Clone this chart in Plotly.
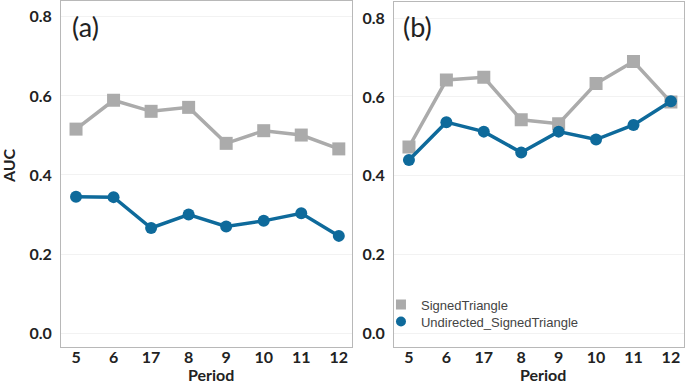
import plotly.graph_objects as go

periods = ["5", "6", "17", "8", "9", "10", "11", "12"]
a_signed = [0.516, 0.589, 0.561, 0.571, 0.480, 0.512, 0.501, 0.466]
a_undirected = [0.345, 0.344, 0.266, 0.300, 0.270, 0.284, 0.303, 0.246]
b_signed = [0.473, 0.643, 0.650, 0.542, 0.532, 0.634, 0.690, 0.587]
b_undirected = [0.440, 0.536, 0.512, 0.459, 0.512, 0.492, 0.529, 0.589]
y_ticks = [0.0, 0.2, 0.4, 0.6, 0.8]
series_names = ["SignedTriangle", "Undirected_SignedTriangle"]

GRAY = "#ababab"
BLUE = "#0e6a9b"

fig = go.Figure()

def add(x, y, name, color, symbol, size, xa, ya):
    fig.add_trace(go.Scatter(
        x=x, y=y, name=name, mode="lines+markers",
        line=dict(color=color, width=3.5),
        marker=dict(symbol=symbol, size=size, color=color),
        xaxis=xa, yaxis=ya, showlegend=False))

add(periods, a_signed, series_names[0], GRAY, "square", 13, "x", "y")
add(periods, a_undirected, series_names[1], BLUE, "circle", 12, "x", "y")
add(periods, b_signed, series_names[0], GRAY, "square", 13, "x2", "y2")
add(periods, b_undirected, series_names[1], BLUE, "circle", 12, "x2", "y2")

# legend entries (marker only), one per legend box for tight spacing
for nm, col, sym, lg in zip(series_names, [GRAY, BLUE], ["square", "circle"], ["legend", "legend2"]):
    fig.add_trace(go.Scatter(x=[None], y=[None], name=nm, mode="markers",
                             marker=dict(symbol=sym, size=10, color=col),
                             xaxis="x2", yaxis="y2", showlegend=True, legend=lg))

FONT = "Lato, Open Sans, sans-serif"
tickfont = dict(family=FONT, size=16, color="#222222", weight="bold")
titlefont = dict(family=FONT, size=16, color="#222222", weight="bold")
legfont = dict(family="Liberation Sans, Arial, sans-serif", size=13, color="#444444")

xcommon = dict(type="category", range=[-0.4, 7.35], showgrid=False, zeroline=False,
               showline=True, mirror=True, linecolor="#b8b8b8", linewidth=1,
               ticks="", tickfont=tickfont, automargin=False, ticklabelstandoff=-4)
ycommon = dict(range=[-0.035, 0.84], tickvals=y_ticks, tickformat=".1f",
               showgrid=True, gridcolor="#f2f2f2", gridwidth=1, zeroline=False,
               showline=True, mirror=True, linecolor="#b8b8b8", linewidth=1,
               ticks="", tickfont=tickfont, ticklabelstandoff=5, automargin=False)

def title_ann(text, x, y, angle=0):
    return dict(text=text, xref="paper", yref="paper", x=x, y=y,
                xanchor="center", yanchor="middle", showarrow=False,
                textangle=angle, font=titlefont)

legcommon = dict(xanchor="left", yanchor="top", bgcolor="rgba(0,0,0,0)",
                 itemwidth=30, font=legfont)

fig.update_layout(
    width=685, height=384,
    margin=dict(l=61, r=1, t=1, b=37, autoexpand=False),
    paper_bgcolor="white", plot_bgcolor="white",
    xaxis=dict(domain=[0, 0.467], anchor="y", **xcommon),
    yaxis=dict(domain=[0, 1], anchor="x", **ycommon),
    xaxis2=dict(domain=[0.5345, 1], anchor="y2", **xcommon),
    yaxis2=dict(domain=[0, 0.9957], anchor="x2", **ycommon),
    legend=dict(x=0.5136, y=0.166, **legcommon),
    legend2=dict(x=0.5136, y=0.117, **legcommon),
    annotations=[
        dict(text="(a)", xref="paper", yref="paper", x=0.014, y=0.98,
             xanchor="left", yanchor="top", showarrow=False,
             font=dict(family=FONT, size=27, color="#222222")),
        dict(text="(b)", xref="paper", yref="paper", x=0.546, y=0.98,
             xanchor="left", yanchor="top", showarrow=False,
             font=dict(family=FONT, size=27, color="#222222")),
        title_ann("AUC", -0.085, 0.523, -90),
        title_ann("Period", 0.241, -0.079),
        title_ann("Period", 0.774, -0.079),
    ],
)

fig.write_html("out.html",
               config={"displayModeBar": False},
               post_script="document.body.style.margin='0';document.body.style.overflow='hidden';")
